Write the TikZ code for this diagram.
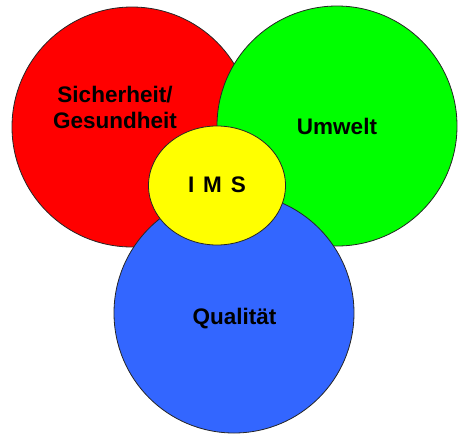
\documentclass[tikz,border=0pt]{standalone}
\usepackage{fontspec}
\setmainfont{Liberation Sans}
\usepackage{tikz}
\tikzset{ring/.style={line width=0.8pt, draw=black!85}}
\tikzset{lbl/.style={inner sep=0pt, anchor=base, font=\fontsize{22.5}{26}\selectfont\bfseries}}
\definecolor{imsred}{HTML}{FF0000}
\definecolor{imsgreen}{HTML}{00FF00}
\definecolor{imsblue}{HTML}{3366FF}
\definecolor{imsyellow}{HTML}{FFFF00}

\begin{document}
\begin{tikzpicture}[x=1pt, y=-1pt]

  \newcommand\R{120}

  \useasboundingbox (0,0) rectangle (467,440);

  \draw[ring, fill=imsred](132, 127) circle (\R pt);
  \draw[ring, fill=imsgreen](337, 126) circle (\R pt);
  \draw[ring, fill=imsblue](234, 313) circle (\R pt);
  \draw[ring, fill=imsyellow](217, 185.5) ellipse (68.5pt and 59.5pt);

  \node[lbl, align=center] (sicher) at (115, 128) {Sicherheit/\\Gesundheit};
  \node[lbl] (umwelt) at (337, 134.5) {Umwelt};
  \node[lbl] (ims) at (217, 192.5) {I\hskip .4em M\hskip .4em S};
  \node[lbl] (quali) at (234.5, 324) {Qualität};

\end{tikzpicture}
\end{document}
